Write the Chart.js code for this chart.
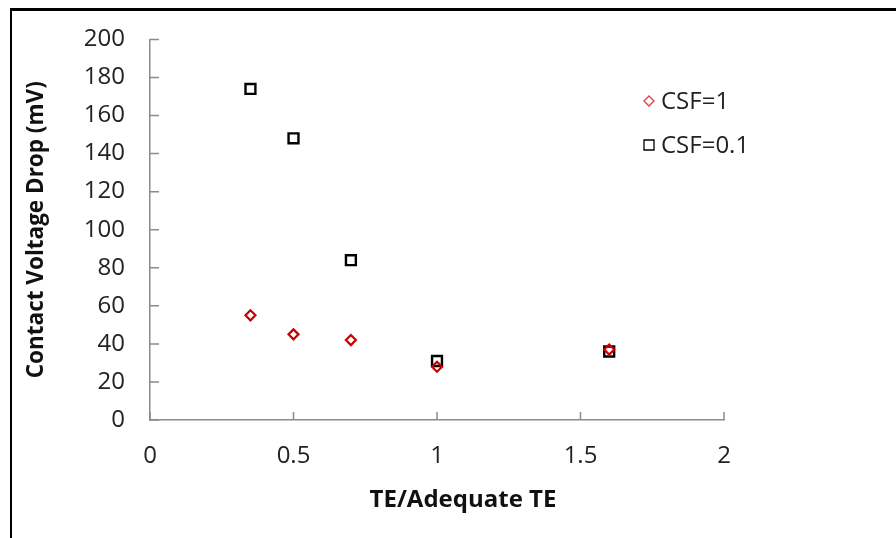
<!DOCTYPE html>
<html>
<head>
<meta charset="utf-8">
<script src="https://cdn.jsdelivr.net/npm/chart.js@4/dist/chart.umd.min.js"></script>
<style>
  html, body { margin: 0; padding: 0; background: #fff; }
  #wrap { position: relative; width: 896px; height: 538px; overflow: hidden; }
  #frame { position: absolute; left: 10px; top: 8px; width: 900px; height: 600px;
           border-left: 2px solid #000; border-top: 3px solid #000; box-sizing: border-box; }
  canvas { position: absolute; left: 0; top: 0; }
</style>
</head>
<body>
<div id="wrap">
  <div id="frame"></div>
  <canvas id="chart" width="896" height="538"></canvas>
</div>
<script>
const teRatio = [0.35, 0.5, 0.7, 1.0, 1.6];
const csf1 = [55, 45, 42, 28, 37];
const csf01 = [174, 148, 84, 31, 36];
const seriesNames = ["CSF=1", "CSF=0.1"];
const xTicks = [0, 0.5, 1, 1.5, 2];
const yTicks = [0, 20, 40, 60, 80, 100, 120, 140, 160, 180, 200];
const xTitle = "TE/Adequate TE";
const yTitle = "Contact Voltage Drop (mV)";

const axisGray = "#8c8c8c";
const font = "'Open Sans', sans-serif";

// tick marks point into the plot, like the original spreadsheet chart
const innerTicks = {
  id: "innerTicks",
  afterDraw(chart) {
    const { ctx, scales: { x, y } } = chart;
    ctx.save();
    ctx.strokeStyle = axisGray;
    ctx.lineWidth = 1.5;
    ctx.beginPath();
    yTicks.forEach((v) => {
      const py = y.getPixelForValue(v);
      ctx.moveTo(x.left, py);
      ctx.lineTo(x.left + 9, py);
    });
    xTicks.forEach((v) => {
      const px = x.getPixelForValue(v);
      ctx.moveTo(px, y.bottom);
      ctx.lineTo(px, y.bottom - 8);
    });
    ctx.stroke();

    // x title sits a bit right of the plot centre in the original
    ctx.font = "bold 24px " + font;
    ctx.fillStyle = "#111";
    ctx.textAlign = "center";
    ctx.textBaseline = "middle";
    ctx.fillText(xTitle, 463, 500);
    ctx.restore();
  },
};

const sideLegend = {
  id: "sideLegend",
  afterDraw(chart) {
    const { ctx } = chart;
    ctx.save();
    ctx.font = "24px " + font;
    ctx.textBaseline = "middle";
    chart.data.datasets.forEach((ds, i) => {
      const ly = 101 + i * 44;
      ctx.strokeStyle = ds.legendColor;
      ctx.lineWidth = 1.3;
      ctx.beginPath();
      if (ds.pointStyle === "rectRot") {
        ctx.moveTo(649, ly - 5);
        ctx.lineTo(654, ly);
        ctx.lineTo(649, ly + 5);
        ctx.lineTo(644, ly);
        ctx.closePath();
      } else {
        ctx.rect(644, ly - 5, 10, 10);
      }
      ctx.stroke();
      ctx.fillStyle = "#222";
      ctx.fillText(ds.label, 661, ly + 1);
    });
    ctx.restore();
  },
};

new Chart(document.getElementById("chart"), {
  type: "scatter",
  data: {
    datasets: [
      {
        label: seriesNames[0],
        data: teRatio.map((t, i) => ({ x: t, y: csf1[i] })),
        pointStyle: "rectRot",
        pointRadius: 5,
        borderColor: "#cc0000",
        backgroundColor: "rgba(0,0,0,0)",
        borderWidth: 2.2,
        legendColor: "#e04040",
      },
      {
        label: seriesNames[1],
        data: teRatio.map((t, i) => ({ x: t, y: csf01[i] })),
        pointStyle: "rect",
        pointRadius: 7,
        borderColor: "#000",
        backgroundColor: "rgba(0,0,0,0)",
        borderWidth: 2.4,
        legendColor: "#000",
      },
    ],
  },
  options: {
    responsive: false,
    animation: false,
    layout: { padding: { left: 0, top: 38, right: 172, bottom: 0 } },
    plugins: { legend: { display: false }, tooltip: { enabled: false } },
    scales: {
      x: {
        type: "linear",
        min: 0,
        max: 2,
        afterBuildTicks: (s) => { s.ticks = xTicks.map((v) => ({ value: v })); },
        afterFit: (s) => { s.height = 118; },
        grid: { display: true, drawOnChartArea: false, drawTicks: false },
        border: { color: axisGray, width: 1.5 },
        ticks: {
          color: "#222",
          font: { family: font, size: 24 },
          padding: 22,
          callback: (v) => String(v),
        },
        title: { display: false },
      },
      y: {
        type: "linear",
        min: 0,
        max: 200,
        afterBuildTicks: (s) => { s.ticks = yTicks.map((v) => ({ value: v })); },
        afterFit: (s) => { s.width = 150; },
        grid: { display: true, drawOnChartArea: false, drawTicks: false },
        border: { color: axisGray, width: 1.5 },
        ticks: { color: "#222", font: { family: font, size: 24 }, padding: 25 },
        title: {
          display: true,
          text: yTitle,
          color: "#111",
          font: { family: font, size: 22.5, weight: "bold" },
          padding: { top: 23, bottom: 0 },
        },
      },
    },
  },
  plugins: [innerTicks, sideLegend],
});
</script>
</body>
</html>
